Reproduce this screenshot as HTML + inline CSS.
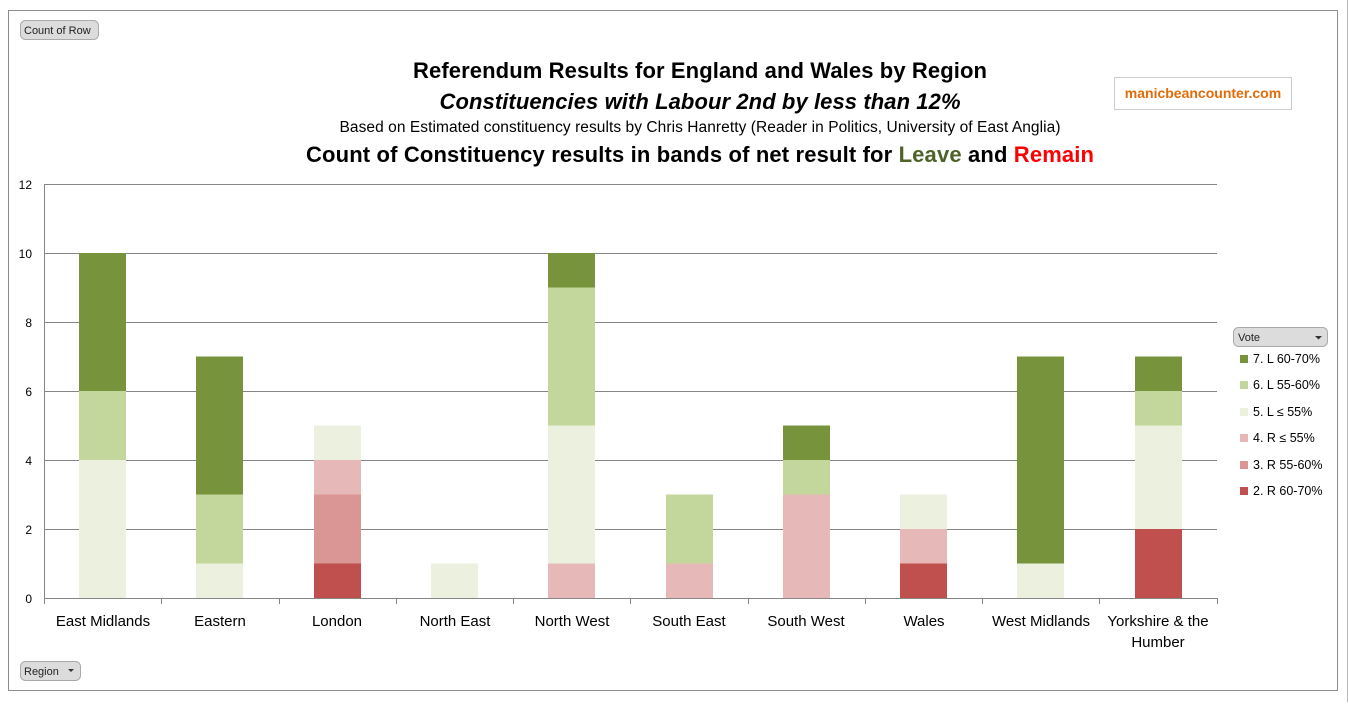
<!DOCTYPE html>
<html><head><meta charset="utf-8"><style>
body{margin:0;background:#fff;width:1349px;height:702px;overflow:hidden}
text{font-family:"Liberation Sans","DejaVu Sans",sans-serif}
</style></head><body>
<svg width="1349" height="702" xmlns="http://www.w3.org/2000/svg">
<rect x="8.5" y="10.5" width="1329" height="680" fill="#fff" stroke="#8c8c8c"/>
<line x1="1347.5" y1="0" x2="1347.5" y2="702" stroke="#bbb"/>
<rect x="20.5" y="20.5" width="78" height="19" rx="5" fill="#dcdcdc" stroke="#aaa"/>
<text x="24" y="34" font-size="11" fill="#222">Count of Row</text>
<rect x="20.5" y="661.5" width="60" height="19" rx="5" fill="#dcdcdc" stroke="#aaa"/>
<text x="24" y="675" font-size="11" fill="#222">Region</text>
<path d="M68 669l3 3 3-3z" fill="#333"/>
<rect x="1233.5" y="327.5" width="94" height="19" rx="5" fill="#dcdcdc" stroke="#aaa"/>
<text x="1238" y="341" font-size="11" fill="#222">Vote</text>
<path d="M1315 336l3.5 3.5 3.5-3.5z" fill="#333"/>
<rect x="1114.5" y="77.5" width="177" height="32" fill="#fff" stroke="#ccc"/>
<text x="1203" y="98" font-size="14" font-weight="bold" fill="#e36c09" text-anchor="middle">manicbeancounter.com</text>
<text x="700" y="78" font-size="22" font-weight="bold" text-anchor="middle" fill="#000" textLength="574">Referendum Results for England and Wales by Region</text>
<text x="700" y="109" font-size="22" font-weight="bold" font-style="italic" text-anchor="middle" fill="#000" textLength="521">Constituencies with Labour 2nd by less than 12%</text>
<text x="700" y="132" font-size="15.5" text-anchor="middle" fill="#000" textLength="721">Based on Estimated constituency results by Chris Hanretty (Reader in Politics, University of East Anglia)</text>
<text x="700" y="162" font-size="22" font-weight="bold" text-anchor="middle" fill="#000" textLength="788">Count of Constituency results in bands of net result for <tspan fill="#4f6228">Leave</tspan> and <tspan fill="#ff0000">Remain</tspan></text>
<g stroke="#868686" stroke-width="1">
<line x1="44" y1="184.5" x2="1217" y2="184.5"/><line x1="44" y1="253.5" x2="1217" y2="253.5"/>
<line x1="44" y1="322.5" x2="1217" y2="322.5"/><line x1="44" y1="391.5" x2="1217" y2="391.5"/>
<line x1="44" y1="460.5" x2="1217" y2="460.5"/><line x1="44" y1="529.5" x2="1217" y2="529.5"/>
<line x1="44" y1="598.5" x2="1217" y2="598.5"/><line x1="44.5" y1="184" x2="44.5" y2="604"/>
<line x1="161.5" y1="598" x2="161.5" y2="604"/><line x1="279.5" y1="598" x2="279.5" y2="604"/>
<line x1="396.5" y1="598" x2="396.5" y2="604"/><line x1="513.5" y1="598" x2="513.5" y2="604"/>
<line x1="630.5" y1="598" x2="630.5" y2="604"/><line x1="748.5" y1="598" x2="748.5" y2="604"/>
<line x1="865.5" y1="598" x2="865.5" y2="604"/><line x1="982.5" y1="598" x2="982.5" y2="604"/>
<line x1="1099.5" y1="598" x2="1099.5" y2="604"/><line x1="1217.5" y1="598" x2="1217.5" y2="604"/>
</g>
<g font-size="12" fill="#000" text-anchor="end">
<text x="32" y="189">12</text><text x="32" y="258">10</text><text x="32" y="327">8</text>
<text x="32" y="396">6</text><text x="32" y="465">4</text><text x="32" y="534">2</text><text x="32" y="603">0</text>
</g>
<g>
<rect x="79" y="460" width="47" height="138" fill="#EBF1DE"/>
<rect x="79" y="391" width="47" height="69" fill="#C3D69B"/>
<rect x="79" y="253" width="47" height="138" fill="#77933C"/>
<rect x="196" y="563.5" width="47" height="34.5" fill="#EBF1DE"/>
<rect x="196" y="494.5" width="47" height="69" fill="#C3D69B"/>
<rect x="196" y="356.5" width="47" height="138" fill="#77933C"/>
<rect x="314" y="563.5" width="47" height="34.5" fill="#C0504D"/>
<rect x="314" y="494.5" width="47" height="69" fill="#D99694"/>
<rect x="314" y="460" width="47" height="34.5" fill="#E6B9B8"/>
<rect x="314" y="425.5" width="47" height="34.5" fill="#EBF1DE"/>
<rect x="431" y="563.5" width="47" height="34.5" fill="#EBF1DE"/>
<rect x="548" y="563.5" width="47" height="34.5" fill="#E6B9B8"/>
<rect x="548" y="425.5" width="47" height="138" fill="#EBF1DE"/>
<rect x="548" y="287.5" width="47" height="138" fill="#C3D69B"/>
<rect x="548" y="253" width="47" height="34.5" fill="#77933C"/>
<rect x="666" y="563.5" width="47" height="34.5" fill="#E6B9B8"/>
<rect x="666" y="494.5" width="47" height="69" fill="#C3D69B"/>
<rect x="783" y="494.5" width="47" height="103.5" fill="#E6B9B8"/>
<rect x="783" y="460" width="47" height="34.5" fill="#C3D69B"/>
<rect x="783" y="425.5" width="47" height="34.5" fill="#77933C"/>
<rect x="900" y="563.5" width="47" height="34.5" fill="#C0504D"/>
<rect x="900" y="529" width="47" height="34.5" fill="#E6B9B8"/>
<rect x="900" y="494.5" width="47" height="34.5" fill="#EBF1DE"/>
<rect x="1017" y="563.5" width="47" height="34.5" fill="#EBF1DE"/>
<rect x="1017" y="356.5" width="47" height="207" fill="#77933C"/>
<rect x="1135" y="529" width="47" height="69" fill="#C0504D"/>
<rect x="1135" y="425.5" width="47" height="103.5" fill="#EBF1DE"/>
<rect x="1135" y="391" width="47" height="34.5" fill="#C3D69B"/>
<rect x="1135" y="356.5" width="47" height="34.5" fill="#77933C"/>
</g>
<g font-size="15" fill="#000" text-anchor="middle">
<text x="103" y="626">East Midlands</text><text x="220" y="626">Eastern</text>
<text x="337" y="626">London</text><text x="455" y="626">North East</text>
<text x="572" y="626">North West</text><text x="689" y="626">South East</text>
<text x="806" y="626">South West</text><text x="924" y="626">Wales</text>
<text x="1041" y="626">West Midlands</text><text x="1158" y="626">Yorkshire &amp; the</text>
<text x="1158" y="647">Humber</text>
</g>
<g font-size="12.5" fill="#000">
<rect x="1240" y="355" width="8" height="8" fill="#77933C"/><text x="1253" y="363">7. L 60-70%</text>
<rect x="1240" y="381" width="8" height="8" fill="#C3D69B"/><text x="1253" y="389">6. L 55-60%</text>
<rect x="1240" y="408" width="8" height="8" fill="#EBF1DE"/><text x="1253" y="416">5. L ≤ 55%</text>
<rect x="1240" y="434" width="8" height="8" fill="#E6B9B8"/><text x="1253" y="442">4. R ≤ 55%</text>
<rect x="1240" y="461" width="8" height="8" fill="#D99694"/><text x="1253" y="469">3. R 55-60%</text>
<rect x="1240" y="487" width="8" height="8" fill="#C0504D"/><text x="1253" y="495">2. R 60-70%</text>
</g>
</svg>
</body></html>
